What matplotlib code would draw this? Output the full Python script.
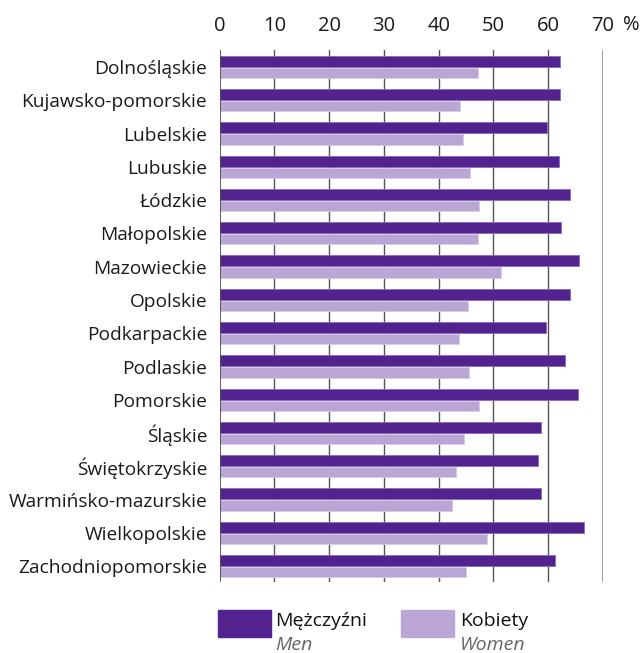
import matplotlib
matplotlib.use("Agg")
import matplotlib.pyplot as plt
import numpy as np
from matplotlib.patches import Rectangle

plt.rcParams['font.family'] = ['Open Sans', 'DejaVu Sans']

regions = ["Dolnośląskie", "Kujawsko-pomorskie", "Lubelskie", "Lubuskie", "Łódzkie",
           "Małopolskie", "Mazowieckie", "Opolskie", "Podkarpackie", "Podlaskie",
           "Pomorskie", "Śląskie", "Świętokrzyskie", "Warmińsko-mazurskie",
           "Wielkopolskie", "Zachodniopomorskie"]
men = [62.1, 62.2, 59.8, 61.9, 63.9, 62.3, 65.7, 63.9, 59.5, 63.0, 65.4, 58.7, 58.1, 58.7, 66.6, 61.2]
women = [47.1, 43.9, 44.5, 45.8, 47.3, 47.1, 51.3, 45.4, 43.7, 45.6, 47.3, 44.7, 43.2, 42.5, 48.9, 44.9]
ticks = [0, 10, 20, 30, 40, 50, 60, 70]

c_men = '#52238f'
c_women = '#baa6d4'

W, H = 643, 653
fig = plt.figure(figsize=(W / 100, H / 100), dpi=100)
ax = fig.add_axes([219.7 / W, 1 - 582 / H, (603 - 219.7) / W, (582 - 50) / H])

y = np.arange(len(regions))
ax.barh(y - 0.175, men, height=0.33, color=c_men, edgecolor='#8a6cb8', linewidth=0.6, zorder=3)
ax.barh(y + 0.175, women, height=0.31, color=c_women, edgecolor='#d6cbe6', linewidth=0.6, zorder=3)

ax.set_xlim(0, 70)
ax.set_ylim(15.47, -0.51)

for t in ticks[1:-1]:
    ax.axvline(t, color='#555555', lw=1.0, zorder=1)
ax.axvline(70, color='#999999', lw=2.0, zorder=1)
ax.axvline(0, color='#444444', lw=1.2, zorder=4)

for s in ax.spines.values():
    s.set_visible(False)

ax.xaxis.tick_top()
ax.set_xticks(ticks)
ax.set_xticklabels([str(t) for t in ticks])
ax.tick_params(axis='x', length=0, pad=10, labelsize=14.5, colors='#1a1a1a')
ax.set_yticks(y)
ax.set_yticklabels(regions)
ax.tick_params(axis='y', length=0, pad=9, labelsize=13.8, colors='#1a1a1a')

fig.text(631 / W, 1 - 24.5 / H, '%', ha='center', va='center', fontsize=14.5, color='#1a1a1a')

# legend
fig.patches.append(Rectangle((217.7 / W, 1 - 636.7 / H), 53.3 / W, 26.7 / H,
                             transform=fig.transFigure, color=c_men))
fig.patches.append(Rectangle((401 / W, 1 - 636.7 / H), 53 / W, 26.7 / H,
                             transform=fig.transFigure, color=c_women))
fig.text(275 / W, 1 - 621 / H, 'Mężczyźni', ha='left', va='center', fontsize=14, color='#111111')
fig.text(275 / W, 1 - 645 / H, 'Men', ha='left', va='center', fontsize=14, style='italic', color='#666666')
fig.text(460 / W, 1 - 621 / H, 'Kobiety', ha='left', va='center', fontsize=14, color='#111111')
fig.text(460 / W, 1 - 645 / H, 'Women', ha='left', va='center', fontsize=14, style='italic', color='#666666')

fig.savefig('out.png', dpi=100)
